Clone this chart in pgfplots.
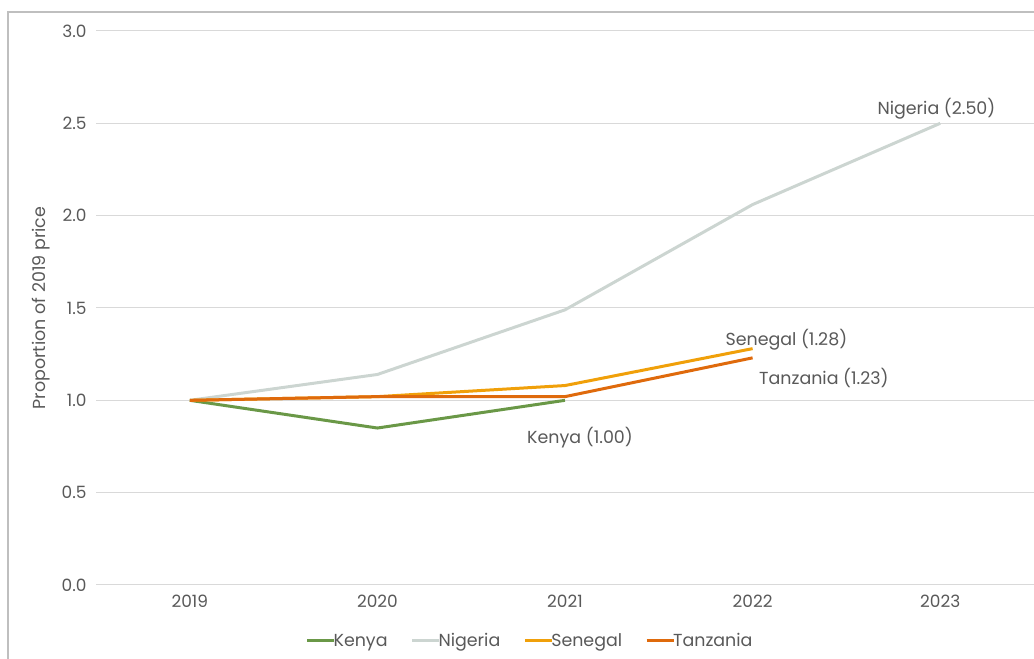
\documentclass[border=0pt]{standalone}
\usepackage{pgfplots}
\pgfplotsset{compat=1.18}
\usepackage{fontspec}
\setmainfont{Poppins}
\definecolor{txt}{HTML}{595959}
\definecolor{gridc}{HTML}{D9D9D9}
\definecolor{framec}{HTML}{BFBFBF}
\definecolor{kenya}{HTML}{6A9847}
\definecolor{nigeria}{HTML}{CCD5D1}
\definecolor{senegal}{HTML}{F0A00A}
\definecolor{tanzania}{HTML}{DF6A0C}
\begin{document}
\begin{tikzpicture}[x=1bp,y=1bp]
\useasboundingbox (0,0) rectangle (1034,659);
\draw[framec,line width=2bp] (8,0) -- (8,647) -- (1040,647);
\begin{axis}[
  at={(96bp,74bp)}, anchor=south west,
  scale only axis, width=938bp, height=554bp,
  xmin=-0.5, xmax=4.5, ymin=0, ymax=3,
  xtick={0,1,2,3,4}, xticklabels={2019,2020,2021,2022,2023},
  ytick={0,0.5,1,1.5,2,2.5,3},
  yticklabel={\pgfmathprintnumber[fixed,fixed zerofill,precision=1]{\tick}},
  /pgf/number format/assume math mode=true,
  axis line style={draw=none},
  major tick length=0pt,
  xmajorgrids=false, ymajorgrids=true, grid style={draw=gridc,line width=1bp},
  tick label style={font=\fontsize{17}{19}\selectfont, text=txt},
  yticklabel style={xshift=-6bp},
  xticklabel style={yshift=-7bp},
  ylabel={Proportion of 2019 price},
  ylabel style={font=\fontsize{17.5}{19}\selectfont, text=txt, at={(rel axis cs:-0.058,0.5)}, anchor=center},
  legend columns=4,
  legend style={draw=none, fill=none, at={(0.4627,-0.101)}, anchor=center,
    font=\fontsize{17.5}{19}\selectfont, text=txt,
    /tikz/every even column/.append style={column sep=21bp},
    /tikz/every odd column/.append style={column sep=-4bp}},
  legend image code/.code={\draw[#1,line width=3bp] (0bp,0bp) -- (27bp,0bp);},
  clip=false,
]
\addplot[kenya, line width=3bp] coordinates {(0,1.00) (1,0.85) (2,1.00)};
\addlegendentry{Kenya}
\addplot[nigeria, line width=3bp] coordinates {(0,1.00) (1,1.14) (2,1.49) (3,2.06) (4,2.50)};
\addlegendentry{Nigeria}
\addplot[senegal, line width=3bp] coordinates {(0,1.00) (1,1.02) (2,1.08) (3,1.28)};
\addlegendentry{Senegal}
\addplot[tanzania, line width=3bp] coordinates {(0,1.00) (1,1.02) (2,1.02) (3,1.23)};
\addlegendentry{Tanzania}
\node[text=txt, font=\fontsize{17.5}{19}\selectfont] at (axis cs:3.98,2.58) {Nigeria (2.50)};
\node[text=txt, font=\fontsize{17.5}{19}\selectfont] at (axis cs:3.18,1.33) {Senegal (1.28)};
\node[text=txt, font=\fontsize{17.5}{19}\selectfont] at (axis cs:3.38,1.12) {Tanzania (1.23)};
\node[text=txt, font=\fontsize{17.5}{19}\selectfont] at (axis cs:2.08,0.80) {Kenya (1.00)};
\end{axis}
\end{tikzpicture}
\end{document}
